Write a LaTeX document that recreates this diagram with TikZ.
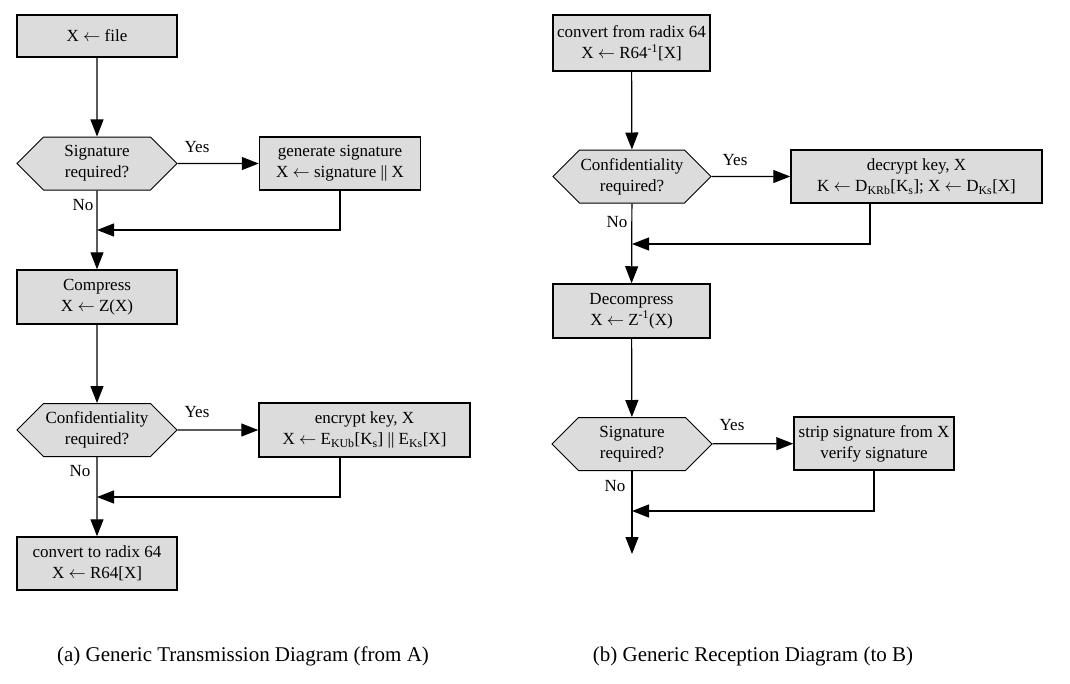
\documentclass[tikz,border=0pt]{standalone}
\usepackage{fontspec}
\setmainfont{Liberation Serif}
\usetikzlibrary{arrows.meta, shapes.symbols}
\definecolor{boxgray}{RGB}{220,220,220}
\newcommand{\boxfont}{\fontsize{17}{21}\selectfont}
\newcommand{\capfont}{\fontsize{21}{25}\selectfont}
\newcommand{\sub}[1]{\textsubscript{#1}}
\newcommand{\from}{$\leftarrow$}

\tikzset{
    procbox/.style={draw, fill=boxgray, line width=1.5pt, align=center, inner sep=1pt, font=\boxfont},
    decide/.style={signal, signal to=west and east, signal pointer angle=90, draw, fill=boxgray,
                   line width=1pt, align=center, inner sep=1pt, minimum height=53pt, font=\boxfont},
    flow/.style={line width=1.2pt, -{Triangle[length=17pt,width=13pt]}},
    lbl/.style={font=\boxfont}
}

\begin{document}
\begin{tikzpicture}[x=1pt, y=-1pt]
    \useasboundingbox (0,0) rectangle (1070,683);

    % (a) transmission
    \node[procbox, minimum width=160pt, minimum height=42pt] at (97,36) (file) {X \from{} file};
    \node[decide, minimum width=160pt] at (97,163.5) (sig) {Signature\\required?};
    \node[procbox, minimum width=161pt, minimum height=53pt] at (340,163.5) (gensig) {generate signature\\X \from{} signature || X};
    \node[procbox, minimum width=160pt, minimum height=54pt] at (97,297) (comp) {Compress\\X \from{} Z(X)};
    \node[decide, minimum width=160pt] at (97,430) (conf) {Confidentiality\\required?};
    \node[procbox, minimum width=211pt, minimum height=54pt] at (364.5,430) (enc) {encrypt key, X\\X \from{} E\sub{KUb}[K\sub{s}] || E\sub{Ks}[X]};
    \node[procbox, minimum width=160pt, minimum height=53pt] at (97,563.5) (radix) {convert to radix 64\\X \from{} R64[X]};

    \coordinate (m1) at (97,230);
    \coordinate (m2) at (97,497);
    \coordinate (d2) at (340,457);

    \draw[flow] (file) -- (sig);
    \draw[flow] (sig) -- (gensig);
    \draw[flow] (gensig.south) |- (m1);
    \draw[flow] (sig) -- (comp);
    \draw[flow] (comp) -- (conf);
    \draw[flow] (conf) -- (enc);
    \draw[flow] (d2) |- (m2);
    \draw[flow] (conf) -- (radix);

    \node[lbl] at (197,147) (ya1) {Yes};
    \node[lbl] at (83,205) (na1) {No};
    \node[lbl] at (197,412) (ya2) {Yes};
    \node[lbl] at (80,471) (na2) {No};

    % (b) reception
    \node[procbox, minimum width=157pt, minimum height=56pt] at (631.5,43) (rfrom) {convert from radix 64\\X \from{} R64\textsuperscript{-1}[X]};
    \node[decide, minimum width=158pt] at (632,176.5) (rconf) {Confidentiality\\required?};
    \node[procbox, minimum width=251pt, minimum height=53pt] at (916.5,176.5) (dec) {decrypt key, X\\K \from{} D\sub{KRb}[K\sub{s}]; X \from{} D\sub{Ks}[X]};
    \node[procbox, minimum width=157pt, minimum height=54pt] at (631.5,311) (decomp) {Decompress\\X \from{} Z\textsuperscript{-1}(X)};
    \node[decide, minimum width=160pt] at (632,444) (rsig) {Signature\\required?};
    \node[procbox, minimum width=160pt, minimum height=53pt] at (874,443.5) (strip) {strip signature from X\\verify signature};

    \coordinate (m3) at (632,244);
    \coordinate (m4) at (632,511);
    \coordinate (d3) at (870,203);
    \coordinate (rend) at (632,554);

    \draw[flow] (rfrom) -- (rconf);
    \draw[flow] (rconf) -- (dec);
    \draw[flow] (d3) |- (m3);
    \draw[flow] (rconf) -- (decomp);
    \draw[flow] (decomp) -- (rsig);
    \draw[flow] (rsig) -- (strip);
    \draw[flow] (strip.south) |- (m4);
    \draw[flow] (rsig) -- (rend);

    \node[lbl] at (735,160) (yb1) {Yes};
    \node[lbl] at (617,222) (nb1) {No};
    \node[lbl] at (732,425) (yb2) {Yes};
    \node[lbl] at (615,486) (nb2) {No};

    % captions
    \node[font=\capfont] at (243,656) (capa) {(a) Generic Transmission Diagram (from A)};
    \node[font=\capfont] at (753,656) (capb) {(b) Generic Reception Diagram (to B)};
\end{tikzpicture}
\end{document}
